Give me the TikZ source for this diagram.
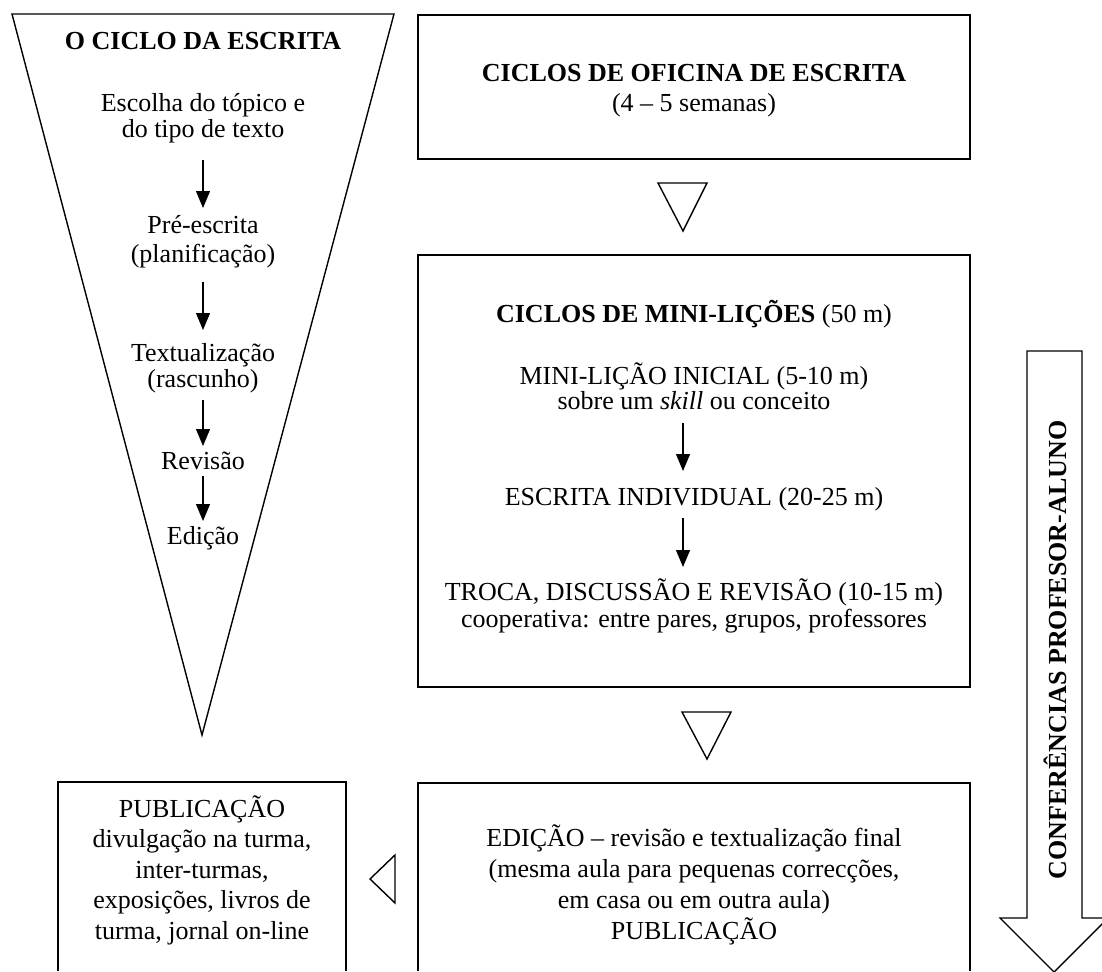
\documentclass[tikz,border=0pt]{standalone}
\usepackage{fontspec}
\setmainfont{Liberation Serif}
\usetikzlibrary{arrows.meta}
\begin{document}
\begin{tikzpicture}[x=1pt,y=-1pt,line width=1.4pt,
  txt/.style={align=center,inner sep=0pt,anchor=base,font=\fontsize{26}{30}\selectfont},
  lead/.style={font=\fontsize{26}{#1}\selectfont},
  flow/.style={-{Triangle[length=17pt,width=14pt]},line width=1.2pt},
  outline/.style={line width=1.4pt,line join=miter}]
\useasboundingbox (0,0) rectangle (1102,971);
% (multi-line nodes are placed by the baseline of their last line)

% ---------- funnel: O CICLO DA ESCRITA ----------
\draw[outline] (12,14) -- (394,14) -- (202,735) -- cycle;
\node[txt] (f0) at (203,50) {\textbf{O CICLO DA ESCRITA}};
\node[txt,lead=26] (f1) at (203,138) {Escolha do tópico e\\do tipo de texto};
\node[txt,lead=29] (f2) at (203,262) {Pré-escrita\\(planificação)};
\node[txt,lead=26] (f3) at (203,387) {Textualização\\(rascunho)};
\node[txt] (f4) at (203,469) {Revisão};
\node[txt] (f5) at (203,544) {Edição};
\coordinate (a1s) at (203,160); \coordinate (a1e) at (203,208);
\coordinate (a2s) at (203,282); \coordinate (a2e) at (203,330);
\coordinate (a3s) at (203,400); \coordinate (a3e) at (203,446);
\coordinate (a4s) at (203,476); \coordinate (a4e) at (203,521);
\draw[flow] (a1s) -- (a1e);
\draw[flow] (a2s) -- (a2e);
\draw[flow] (a3s) -- (a3e);
\draw[flow] (a4s) -- (a4e);

% ---------- box 1 ----------
\draw[outline] (418,15) rectangle (970,159);
\node[txt,lead=30] (b1) at (694,112) {\textbf{CICLOS DE OFICINA DE ESCRITA}\\(4 – 5 semanas)};

% small triangle 1
\draw[outline] (658,183) -- (707,183) -- (683,231) -- cycle;

% ---------- box 2 ----------
\draw[outline] (418,255) rectangle (970,687);
\node[txt] (b2t) at (694,322) {\textbf{CICLOS DE MINI-LIÇÕES} (50 m)};
\node[txt,lead=23] (b2a) at (694,409) {MINI-LIÇÃO INICIAL (5-10 m)\\sobre um \textit{skill} ou conceito};
\node[txt] (b2b) at (694,505) {ESCRITA INDIVIDUAL (20-25 m)};
\node[txt,lead=27] (b2c) at (694,627) {TROCA, DISCUSSÃO E REVISÃO (10-15 m)\\cooperativa: entre pares, grupos, professores};
\coordinate (m1s) at (683,423); \coordinate (m1e) at (683,471);
\coordinate (m2s) at (683,518); \coordinate (m2e) at (683,567);
\draw[flow] (m1s) -- (m1e);
\draw[flow] (m2s) -- (m2e);

% small triangle 2
\draw[outline] (682,712) -- (731,712) -- (707,759) -- cycle;

% ---------- box 3 (open at bottom) ----------
\draw[outline] (418,971) -- (418,783) -- (970,783) -- (970,971);
\node[txt,lead=30.7] (b3) at (694,939) {EDIÇÃO – revisão e textualização final\\(mesma aula para pequenas correcções,\\em casa ou em outra aula)\\PUBLICAÇÃO};

% left-pointing triangle
\draw[outline] (395,855) -- (395,903) -- (370,879) -- cycle;

% ---------- left box (open at bottom) ----------
\draw[outline] (58,971) -- (58,782) -- (346,782) -- (346,971);
\node[txt,lead=30.5] (pub) at (202,939) {PUBLICAÇÃO\\divulgação na turma,\\inter-turmas,\\exposições, livros de\\turma, jornal on-line};

% ---------- conference arrow ----------
\draw[outline] (1027,351) -- (1082,351) -- (1082,918) -- (1108,918) -- (1054,972) -- (1000,918) -- (1027,918) -- cycle;
\node[inner sep=0pt,rotate=90,font=\fontsize{26}{30}\selectfont\bfseries] (conf) at (1055,650) {CONFERÊNCIAS PROFESOR-ALUNO};
\end{tikzpicture}
\end{document}
